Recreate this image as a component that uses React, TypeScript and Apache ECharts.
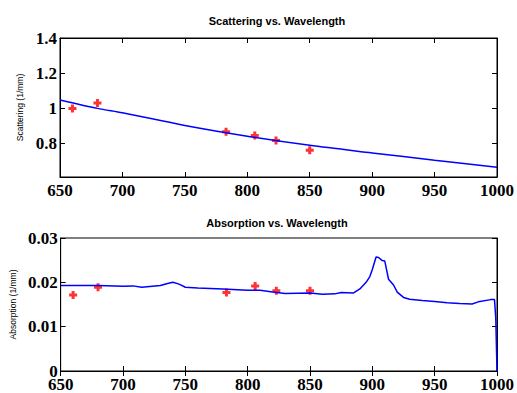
import React, { useEffect, useRef } from "react";
import * as echarts from "echarts";

// Scattering panel
const scatLineX = [650, 680, 700, 750, 800, 850, 900, 950, 1000];
const scatLineY = [1.048, 1.0, 0.975, 0.903, 0.842, 0.79, 0.747, 0.705, 0.665];
const scatPtsX = [660, 680, 783, 806, 823, 850];
const scatPtsY = [1.0, 1.03, 0.867, 0.846, 0.817, 0.762];
const scatTicks = [0.8, 1, 1.2, 1.4];

// Absorption panel
const absLineX = [650, 680, 700, 708, 715, 730, 735, 740, 745, 750, 760, 780, 800, 810, 820, 830, 850, 860, 870, 875, 885, 890, 895, 898, 900, 903, 905, 908, 910, 913, 917, 920, 925, 930, 940, 950, 960, 970, 980, 985, 995, 998, 999, 1000];
const absLineY = [0.0193, 0.0193, 0.0191, 0.0192, 0.0189, 0.0193, 0.0197, 0.02, 0.0196, 0.0189, 0.0187, 0.0185, 0.0182, 0.0182, 0.0178, 0.0175, 0.0176, 0.0173, 0.0174, 0.0177, 0.0176, 0.0185, 0.02, 0.0213, 0.0229, 0.0257, 0.0256, 0.0249, 0.0248, 0.0207, 0.0194, 0.0178, 0.0166, 0.0162, 0.0159, 0.0157, 0.0154, 0.0152, 0.0151, 0.0156, 0.0161, 0.0161, 0.012, 0.0];
const absPtsX = [660, 680, 783, 806, 823, 850];
const absPtsY = [0.01715, 0.0189, 0.0177, 0.0192, 0.0181, 0.0181];

const marker = "path://M2.5,0H5.5V2.5H8V5.5H5.5V8H2.5V5.5H0V2.5H2.5Z";

export default function App() {
  const ref = useRef<HTMLDivElement>(null);
  useEffect(() => {
    if (!ref.current) return;
    const chart = echarts.init(ref.current, null, { renderer: "svg" });
    const tickFont = {
      fontFamily: "'Liberation Serif', 'Times New Roman', serif",
      fontWeight: "bold" as const,
      fontSize: 17,
      lineHeight: 13,
      color: "#000",
    };
    const axisLine = { show: true, lineStyle: { color: "#000", width: 1 } };
    const mkX = (grid: number, show: boolean, pos: "top" | "bottom") => ({
      type: "value" as const,
      gridIndex: grid,
      position: pos,
      min: 650,
      max: 1000,
      interval: 50,
      axisLine,
      axisTick: { show: true, inside: true, length: 5, lineStyle: { color: "#000" } },
      axisLabel: { show, margin: 7, formatter: (v: number) => String(v), ...tickFont },
      splitLine: { show: false },
    });
    const mkY = (
      grid: number,
      show: boolean,
      pos: "left" | "right",
      min: number,
      max: number,
      ticks: number[] | null,
      interval: number | null,
      name: string,
      nameGap: number
    ) => {
      const a: any = {
        type: "value",
        gridIndex: grid,
        position: pos,
        min,
        max,
        axisLine,
        axisTick: { show: true, inside: true, length: 5, lineStyle: { color: "#000" } },
        axisLabel: { show, margin: 3, formatter: (v: number) => String(v), ...tickFont },
        splitLine: { show: false },
      };
      if (ticks) {
        a.axisTick.customValues = ticks;
        a.axisLabel.customValues = ticks;
      }
      if (interval) a.interval = interval;
      if (show) {
        a.name = name;
        a.nameLocation = "middle";
        a.nameGap = nameGap;
        a.nameTextStyle = { fontFamily: "'Liberation Sans', Arial, sans-serif", fontSize: 8.5, color: "#000" };
      }
      return a;
    };
    const titleStyle = {
      fontFamily: "'Liberation Sans', Arial, sans-serif",
      fontWeight: "bold" as const,
      fontSize: 11,
      color: "#000",
    };
    chart.setOption({
      animation: false,
      backgroundColor: "#fff",
      title: [
        { text: "Scattering vs. Wavelength", left: 277, top: 15, padding: 0, textAlign: "center", textStyle: titleStyle },
        { text: "Absorption vs. Wavelength", left: 277, top: 217, padding: 0, textAlign: "center", textStyle: titleStyle },
      ],
      grid: [
        { left: 60, right: 20, top: 38, height: 139, show: true, borderColor: "#000", borderWidth: 1 },
        { left: 60, right: 20, top: 238, height: 136, show: true, borderColor: "#000", borderWidth: 1 },
      ],
      xAxis: [mkX(0, true, "bottom"), mkX(0, false, "top"), mkX(1, true, "bottom"), mkX(1, false, "top")],
      yAxis: [
        mkY(0, true, "left", 0.61, 1.4, scatTicks, null, "Scattering (1/mm)", 31),
        mkY(0, false, "right", 0.61, 1.4, scatTicks, null, "", 0),
        mkY(1, true, "left", 0, 0.03, null, 0.01, "Absorption (1/mm)", 41),
        mkY(1, false, "right", 0, 0.03, null, 0.01, "", 0),
      ],
      series: [
        {
          type: "line",
          xAxisIndex: 0,
          yAxisIndex: 0,
          data: scatLineX.map((x, i) => [x, scatLineY[i]]),
          smooth: 0.3,
          showSymbol: false,
          lineStyle: { color: "#0000ff", width: 1.5 },
        },
        {
          type: "scatter",
          xAxisIndex: 0,
          yAxisIndex: 0,
          data: scatPtsX.map((x, i) => [x, scatPtsY[i]]),
          symbol: marker,
          symbolSize: 8,
          itemStyle: { color: "#ff0000" },
        },
        {
          type: "line",
          xAxisIndex: 2,
          yAxisIndex: 2,
          data: absLineX.map((x, i) => [x, absLineY[i]]),
          showSymbol: false,
          lineStyle: { color: "#0000ff", width: 1.5 },
        },
        {
          type: "scatter",
          xAxisIndex: 2,
          yAxisIndex: 2,
          data: absPtsX.map((x, i) => [x, absPtsY[i]]),
          symbol: marker,
          symbolSize: 8,
          itemStyle: { color: "#ff0000" },
        },
      ],
    });
    return () => chart.dispose();
  }, []);
  return (
    <div
      ref={ref}
      style={{ position: "fixed", left: 0, top: 0, width: 517, height: 393, background: "#fff" }}
    />
  );
}
